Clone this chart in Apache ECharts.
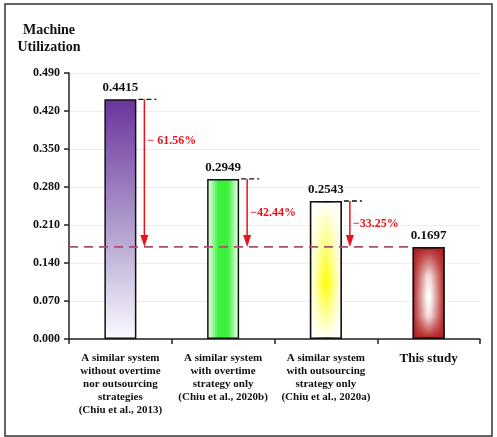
<!DOCTYPE html>
<html>
<head>
<meta charset="utf-8">
<script src="https://cdn.jsdelivr.net/npm/echarts@6/dist/echarts.min.js"></script>
<style>
  html, body { margin: 0; padding: 0; background: #fff; }
  #chart { width: 497px; height: 437px; }
</style>
</head>
<body>
<div id="chart"></div>
<script>
// Machine utilization of four system configurations
const categories = [
  'A similar system\nwithout overtime\nnor outsourcing\nstrategies\n(Chiu et al., 2013)',
  'A similar system\nwith overtime\nstrategy only\n(Chiu et al., 2020b)',
  'A similar system\nwith outsourcing\nstrategy only\n(Chiu et al., 2020a)',
  'This study'
];
const utilization = [0.4415, 0.2949, 0.2543, 0.1697];
const reductionLabels = ['\u2212 61.56%', '\u221242.44%', '\u221233.25%'];
const yTicks = { min: 0, max: 0.49, interval: 0.07 };

const SERIF = '"Liberation Serif", "DejaVu Serif", serif';
const BAR_W = 32;
const baseValue = utilization[utilization.length - 1];

// bar fills
const fills = [
  { type: 'linear', x: 0, y: 0, x2: 0, y2: 1, colorStops: [
    { offset: 0, color: '#6a349d' }, { offset: 0.55, color: '#b3a0cf' }, { offset: 1, color: '#fbfaff' }] },
  { type: 'linear', x: 0, y: 0, x2: 1, y2: 0, colorStops: [
    { offset: 0, color: '#ffffff' }, { offset: 0.35, color: '#3cf03c' }, { offset: 0.65, color: '#3cf03c' }, { offset: 1, color: '#ffffff' }] },
  { type: 'linear', x: 0, y: 0, x2: 0, y2: 1, colorStops: [
    { offset: 0, color: '#ffffff' }, { offset: 0.6, color: '#ffff00' }, { offset: 1, color: '#ffffff' }] },
  { type: 'linear', x: 0, y: 0, x2: 0, y2: 1, colorStops: [
    { offset: 0, color: '#b01e1e' }, { offset: 0.32, color: '#f4dada' }, { offset: 0.55, color: '#ffffff' },
    { offset: 0.75, color: '#f4dada' }, { offset: 1, color: '#b01e1e' }] }
];
// side shading laid over the bars that fade in both directions
const overlays = [
  null,
  null,
  { type: 'linear', x: 0, y: 0, x2: 1, y2: 0, colorStops: [
    { offset: 0, color: 'rgba(255,255,255,1)' }, { offset: 0.5, color: 'rgba(255,255,255,0)' }, { offset: 1, color: 'rgba(255,255,255,1)' }] },
  { type: 'linear', x: 0, y: 0, x2: 1, y2: 0, colorStops: [
    { offset: 0, color: 'rgba(176,30,30,1)' }, { offset: 0.45, color: 'rgba(176,30,30,0)' },
    { offset: 0.55, color: 'rgba(176,30,30,0)' }, { offset: 1, color: 'rgba(176,30,30,1)' }] }
];

const chart = echarts.init(document.getElementById('chart'), null, { renderer: 'canvas' });

const mainData = utilization.map((v, i) => ({ value: v, itemStyle: { color: fills[i] } }));
const overlayData = utilization.map((v, i) => overlays[i]
  ? { value: v, itemStyle: { color: overlays[i] } }
  : '-');

const arrowData = reductionLabels.map((lab, i) => [i, utilization[i], baseValue, lab]);
const labelLift = [32, 0, 0];

chart.setOption({
  animation: false,
  grid: { left: 69, right: 17, top: 73, bottom: 98 },
  graphic: [
    { type: 'rect', shape: { x: 5, y: 4, width: 487, height: 432 },
      style: { fill: 'none', stroke: '#333', lineWidth: 1.5 } },
    { type: 'text', x: 49, y: 22,
      style: { text: 'Machine\nUtilization', font: 'bold 14px ' + SERIF, fill: '#111',
               textAlign: 'center', lineHeight: 17 } }
  ],
  xAxis: {
    type: 'category',
    data: categories,
    axisLine: { lineStyle: { color: '#222', width: 1.5 } },
    axisTick: { show: true, alignWithLabel: false, length: 5, lineStyle: { color: '#222', width: 1.5 } },
    axisLabel: {
      interval: 0, margin: 13, color: '#111',
      fontFamily: SERIF, fontWeight: 'bold', fontSize: 11, lineHeight: 13,
      formatter: (v) => v === 'This study' ? '{big|' + v + '}' : v,
      rich: { big: { fontFamily: SERIF, fontWeight: 'bold', fontSize: 13, color: '#111' } }
    },
    splitLine: { show: false }
  },
  yAxis: {
    type: 'value',
    min: yTicks.min, max: yTicks.max, interval: yTicks.interval,
    axisLine: { show: true, lineStyle: { color: '#222', width: 1.5 } },
    axisTick: { show: true, length: 5, lineStyle: { color: '#222', width: 1.5 } },
    axisLabel: { formatter: (v) => v.toFixed(3), margin: 9, color: '#111',
                 fontFamily: SERIF, fontWeight: 'bold', fontSize: 12 },
    splitLine: { lineStyle: { color: '#ededed', width: 1 } }
  },
  series: [
    {
      type: 'bar', barWidth: BAR_W, barGap: '-100%', z: 2,
      data: mainData,
      itemStyle: { borderColor: '#111', borderWidth: 1.5 },
      label: { show: true, position: 'top', distance: 5, color: '#111',
               fontFamily: SERIF, fontWeight: 'bold', fontSize: 13,
               formatter: (p) => p.value.toFixed(4) }
    },
    {
      type: 'bar', barWidth: BAR_W, barGap: '-100%', z: 3,
      data: overlayData,
      itemStyle: { borderColor: '#111', borderWidth: 1.5 },
      silent: true
    },
    {
      // dashed reference level of this study
      type: 'custom', z: 4,
      data: [[utilization.length - 1, baseValue]],
      renderItem: (params, api) => {
        const band = api.size([1, 0])[0];
        const p = api.coord([api.value(0), api.value(1)]);
        const x0 = api.coord([0, api.value(1)])[0] - band / 2;
        return { type: 'line', shape: { x1: x0, y1: p[1], x2: p[0] - BAR_W / 2, y2: p[1] },
                 style: { stroke: '#a5506f', lineWidth: 1.6, lineDash: [9, 6] } };
      }
    },
    {
      // reduction arrows down to this study's level
      type: 'custom', z: 5,
      data: arrowData,
      renderItem: (params, api) => {
        const i = api.value(0);
        const top = api.coord([i, api.value(1)]);
        const bot = api.coord([i, api.value(2)]);
        const x = top[0] + BAR_W / 2 + 8;
        const ah = 12, aw = 4;
        const lab = reductionLabels[params.dataIndex];
        const midY = (top[1] + bot[1]) / 2 - labelLift[params.dataIndex];
        return {
          type: 'group',
          children: [
            { type: 'line', shape: { x1: top[0] + BAR_W / 2 + 2, y1: top[1], x2: x + 12, y2: top[1] },
              style: { stroke: '#111', lineWidth: 1.4, lineDash: [5, 3] } },
            { type: 'line', shape: { x1: x, y1: top[1], x2: x, y2: bot[1] - ah + 1 },
              style: { stroke: '#e8141b', lineWidth: 1.5 } },
            { type: 'polygon', shape: { points: [[x - aw, bot[1] - ah], [x + aw, bot[1] - ah], [x, bot[1]]] },
              style: { fill: '#e8141b' } },
            { type: 'text', x: x + 3, y: midY,
              style: { text: lab, fill: '#e8141b', font: 'bold 12px ' + SERIF,
                       textAlign: 'left', textVerticalAlign: 'middle' } }
          ]
        };
      }
    }
  ]
});
</script>
</body>
</html>
